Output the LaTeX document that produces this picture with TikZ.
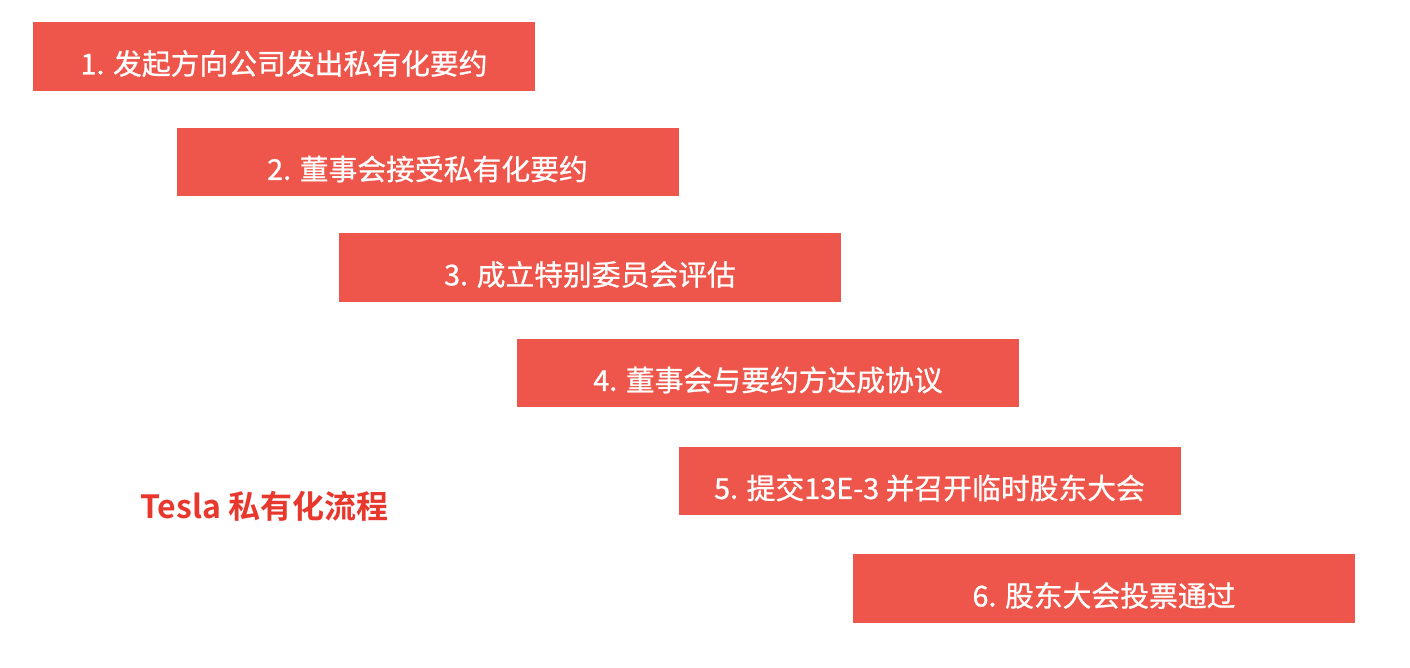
\documentclass[tikz,border=0pt]{standalone}
\usepackage{fontspec}
\setmainfont{Noto Sans CJK SC}
\newfontfamily\medfont[FakeBold=0.8]{Noto Sans CJK SC}
\newfontfamily\titlefont{Noto Sans CJK SC Bold}
\definecolor{boxred}{HTML}{EF564B}
\definecolor{titlered}{HTML}{E8382D}
\begin{document}
\begin{tikzpicture}[x=0.5pt,y=-0.5pt,
  stepbox/.style={fill=boxred,draw=none,minimum width=251pt,minimum height=34.25pt,inner sep=0pt},
  steptext/.style={text=white,font=\medfont\fontsize{14.4pt}{17pt}\selectfont,inner sep=0pt}]
\useasboundingbox[fill=white] (0,0) rectangle (1410,668);
\node[stepbox] (b1) at (284,56.5) {};
\node[stepbox] (b2) at (427.5,162) {};
\node[stepbox] (b3) at (590,267.5) {};
\node[stepbox] (b4) at (768,373) {};
\node[stepbox] (b5) at (929.5,481) {};
\node[stepbox] (b6) at (1104,588.5) {};
\node[steptext] (t1) at ([yshift=-3.5pt]b1.center) {1. 发起方向公司发出私有化要约};
\node[steptext] (t2) at ([yshift=-3.5pt]b2.center) {2. 董事会接受私有化要约};
\node[steptext] (t3) at ([yshift=-3.5pt]b3.center) {3. 成立特别委员会评估};
\node[steptext] (t4) at ([yshift=-3.5pt]b4.center) {4. 董事会与要约方达成协议};
\node[steptext] (t5) at ([yshift=-3.5pt]b5.center) {5. 提交13E-3 并召开临时股东大会};
\node[steptext] (t6) at ([yshift=-3.5pt]b6.center) {6. 股东大会投票通过};
\node[text=titlered,font=\titlefont\fontsize{16pt}{19pt}\selectfont,inner sep=0pt] (title) at (264.5,506) {Tesla 私有化流程};
\end{tikzpicture}
\end{document}
